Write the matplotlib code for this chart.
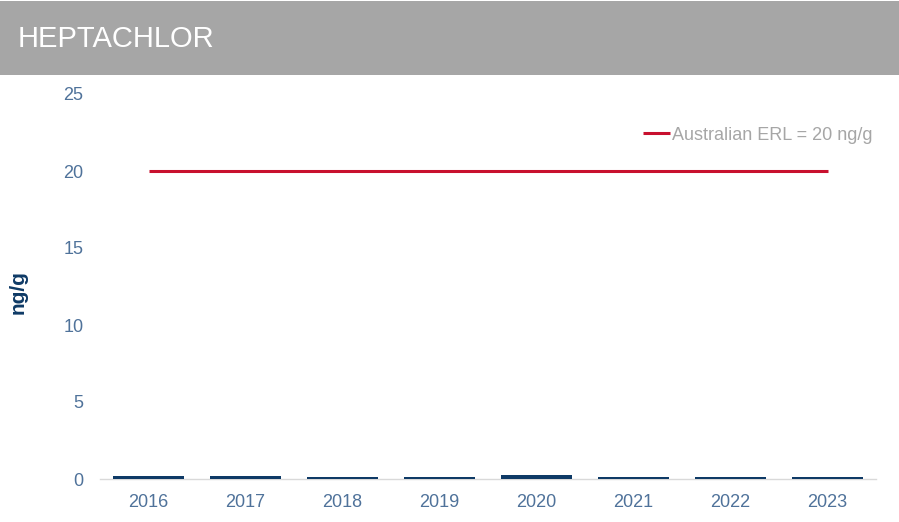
import matplotlib
matplotlib.use('Agg')
import matplotlib.pyplot as plt
from matplotlib.patches import Rectangle

plt.rcParams['font.family'] = ['Liberation Sans', 'DejaVu Sans']

years = ['2016', '2017', '2018', '2019', '2020', '2021', '2022', '2023']
values = [0.2, 0.18, 0.15, 0.15, 0.25, 0.15, 0.15, 0.12]
erl = 20
y_ticks = [0, 5, 10, 15, 20, 25]

W, H = 899, 522
fig = plt.figure(figsize=(W / 100, H / 100), dpi=100)
fig.patch.set_facecolor('white')

# grey header band
fig.patches.append(Rectangle((0, 1 - 75 / H), 1, 74 / H, transform=fig.transFigure,
                             facecolor='#a6a6a6', edgecolor='none', zorder=0))
fig.text(18 / W, 1 - 39 / H, 'HEPTACHLOR', color='white', fontsize=21,
         va='center', ha='left')

ax = fig.add_axes([100 / W, (H - 479) / H, 776 / W, (479 - 94) / H])
x = range(len(years))
ax.bar(x, values, width=0.74, color='#0e3a66', zorder=3)
ax.plot([0, len(years) - 1], [erl, erl], color='#c8102e', lw=2.2,
        solid_capstyle='butt', label='Australian ERL = 20 ng/g', zorder=4)

ax.set_xlim(-0.5, len(years) - 0.5)
ax.set_ylim(0, 25)
ax.set_xticks(list(x))
ax.set_xticklabels(years)
ax.set_yticks(y_ticks)
ax.tick_params(axis='both', length=0, labelsize=13, labelcolor='#4f729a', pad=11)
ax.tick_params(axis='y', pad=12)

for s in ['top', 'right', 'left']:
    ax.spines[s].set_visible(False)
ax.spines['bottom'].set_color('#d9d9d9')
ax.spines['bottom'].set_linewidth(1)

fig.text(18 / W, 1 - 292 / H, 'ng/g', color='#0e3a66', fontsize=15,
         fontweight='bold', rotation=90, va='center', ha='center')

leg = ax.legend(loc='center right', bbox_to_anchor=(1.005, 0.893), frameon=False,
                fontsize=13, handlelength=1.5, handletextpad=0.1, borderaxespad=0)
for t in leg.get_texts():
    t.set_color('#a6a6a6')

fig.savefig('out.png', dpi=100)
